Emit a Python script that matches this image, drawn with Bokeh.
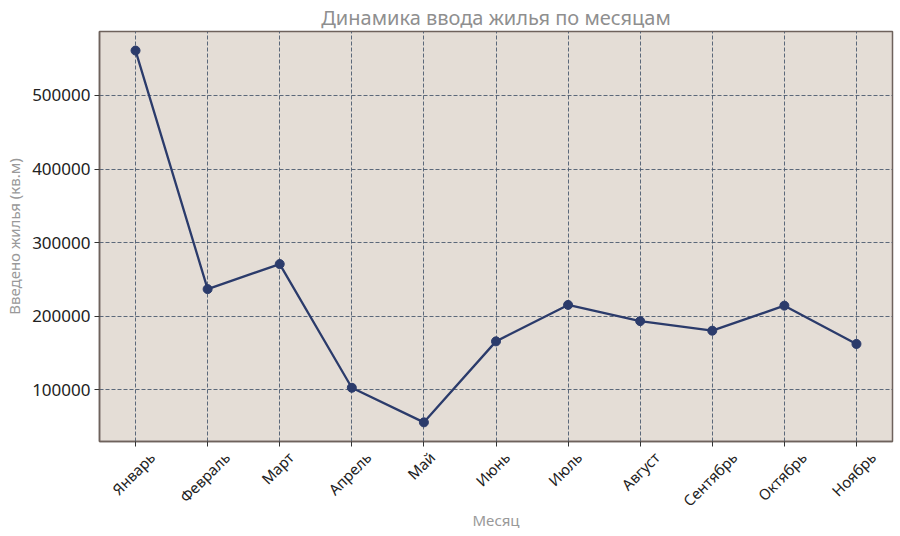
from bokeh.plotting import figure
from bokeh.models import Range1d, NumeralTickFormatter, FixedTicker, LinearAxis
from bokeh.embed import file_html
from bokeh.resources import INLINE
from math import pi

months = ["Январь", "Февраль", "Март", "Апрель", "Май", "Июнь", "Июль",
          "Август", "Сентябрь", "Октябрь", "Ноябрь"]
values = [561000, 237000, 271000, 103000, 56000, 166000, 215500,
          193500, 180500, 214500, 162500]
y_ticks = [100000, 200000, 300000, 400000, 500000]
Y_MIN, Y_MAX = 30000, 586900

FONT = "Noto Sans"
pos = list(range(len(months)))

p = figure(x_range=Range1d(-0.5, len(months) - 0.5), y_range=Range1d(Y_MIN, Y_MAX),
           width=900, height=536,
           min_border_left=99, min_border_top=31, min_border_bottom=95, min_border_right=8,
           output_backend="svg", toolbar_location=None,
           title="Динамика ввода жилья по месяцам")

p.background_fill_color = "#e4ddd6"
p.border_fill_color = "white"
p.outline_line_color = "#6e625c"
p.outline_line_width = 1.5

p.title.align = "center"
p.title.text_font = FONT
p.title.text_font_size = "20px"
p.title.text_font_style = "normal"
p.title.text_color = "#8f8f8f"
p.title.standoff = 1

p.line(pos, values, line_color="#2b3b6b", line_width=2.3)
p.scatter(pos, values, size=9, fill_color="#2b3b6b", line_color="#2b3b6b")

p.xgrid.ticker = FixedTicker(ticks=pos)
for g in (p.xgrid, p.ygrid):
    g.grid_line_color = "#4b5b70"
    g.grid_line_dash = "4 2"
    g.grid_line_width = 1
    g.grid_line_alpha = 0.9

p.yaxis.ticker = FixedTicker(ticks=y_ticks)
p.yaxis.formatter = NumeralTickFormatter(format="0")

for ax in (p.xaxis, p.yaxis):
    ax.axis_line_color = "#6e625c"
    ax.axis_line_width = 1.5
    ax.major_tick_line_color = "#333333"
    ax.major_tick_out = 5
    ax.major_tick_in = 0
    ax.minor_tick_line_color = None
    ax.major_label_text_font = FONT
    ax.major_label_text_font_size = "17px"
    ax.major_label_text_color = "#222222"
    ax.axis_label_text_font = FONT
    ax.axis_label_text_font_size = "15px"
    ax.axis_label_text_font_style = "normal"
    ax.axis_label_text_color = "#999999"

p.yaxis.axis_label = "Введено жилья (кв.м)"
p.yaxis.major_label_standoff = 4

# bottom axis 1: tick marks only (one per month)
p.xaxis.ticker = FixedTicker(ticks=pos)
p.xaxis.major_label_text_color = None
p.xaxis.major_label_text_font_size = "1px"
p.xaxis.major_label_standoff = 0

# bottom axis 2: rotated month names, each bounding box centred under its tick
shift = [round(i + 0.354 * 7.8 * len(m) / 72.0, 4) for i, m in zip(pos, months)]
lab_axis = LinearAxis(ticker=FixedTicker(ticks=shift),
                      major_label_overrides={s: m for s, m in zip(shift, months)},
                      major_label_orientation=pi / 4,
                      major_label_standoff=8,
                      major_tick_out=0, major_tick_in=0,
                      major_tick_line_color=None, minor_tick_line_color=None,
                      axis_line_color=None,
                      major_label_text_font=FONT, major_label_text_font_size="15px",
                      major_label_text_color="#222222",
                      axis_label="Месяц", axis_label_standoff=-10,
                      axis_label_text_font=FONT, axis_label_text_font_size="15px",
                      axis_label_text_font_style="normal", axis_label_text_color="#999999")
p.add_layout(lab_axis, "below")

open("out.html", "w").write(file_html(p, INLINE))
